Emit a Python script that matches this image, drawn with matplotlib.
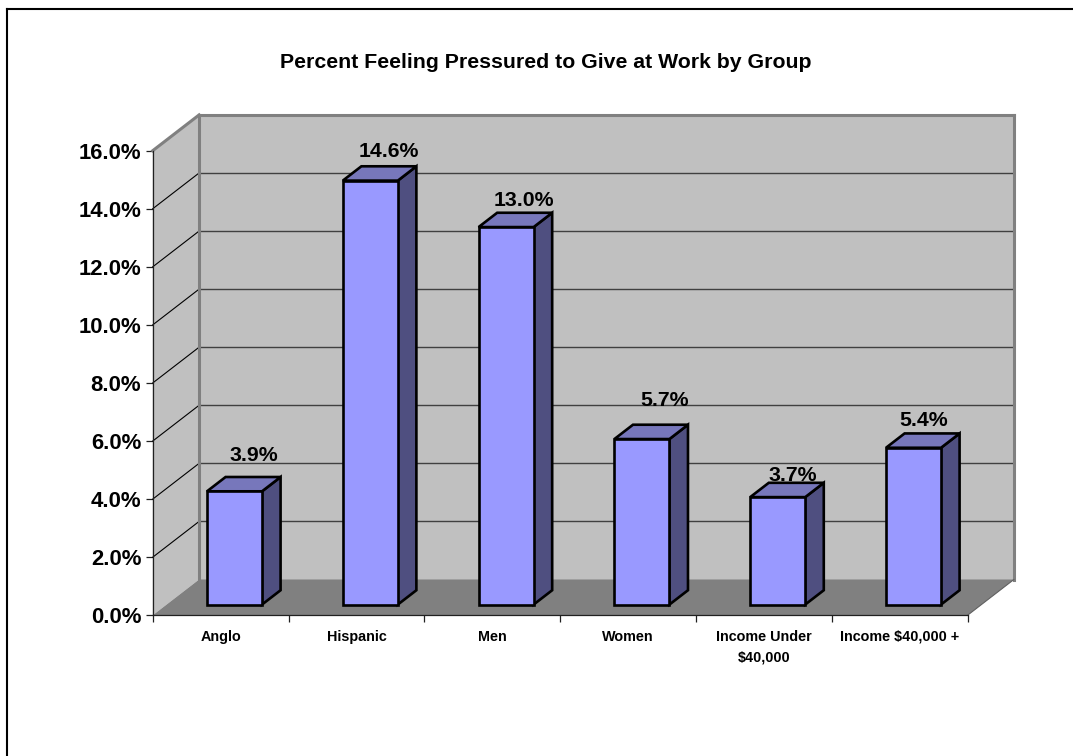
import matplotlib
matplotlib.use("Agg")
import matplotlib.pyplot as plt
from matplotlib.patches import Polygon
from matplotlib.lines import Line2D

plt.rcParams['font.family'] = ['Liberation Sans', 'DejaVu Sans']

categories = ["Anglo", "Hispanic", "Men", "Women", "Income Under\n$40,000", "Income $40,000 +"]
values = [3.9, 14.6, 13.0, 5.7, 3.7, 5.4]
y_ticks = [0, 2, 4, 6, 8, 10, 12, 14, 16]
title = "Percent Feeling Pressured to Give at Work by Group"

# label offsets from the bar's front-top centre (px right, px up to baseline)
label_dx = [19.7, 18.5, 17.5, 23, 15, 10]
label_dy = [30, 24, 21, 33, 16, 22]

W, H = 1073, 756
fig = plt.figure(figsize=(W / 100, H / 100), dpi=100, facecolor="white")
L, R, T, B = 152.7, 967.5, 150.7, 615.3
ax = fig.add_axes([L / W, 1 - B / H, (R - L) / W, (B - T) / H])
ax.set_xlim(0, 6)
ax.set_ylim(0, 16)
ax.patch.set_visible(False)

# depth vector in data units (46 px right, 36 px up)
DX = 46.4 / ((R - L) / 6)
DY = 35.8 / ((B - T) / 16)
BAR_W = 55 / ((R - L) / 6)


def poly(pts, fc, ec="none", lw=0, z=1):
    ax.add_patch(Polygon(pts, closed=True, facecolor=fc, edgecolor=ec, linewidth=lw,
                         joinstyle="miter", clip_on=False, zorder=z))


def line(xs, ys, c, lw, z=2):
    ax.add_line(Line2D(xs, ys, color=c, linewidth=lw, clip_on=False, zorder=z,
                       solid_capstyle="projecting"))


ymax = y_ticks[-1]
poly([(DX, DY), (6 + DX, DY), (6 + DX, ymax + DY), (DX, ymax + DY)], "#C0C0C0")
poly([(0, 0), (DX, DY), (DX, ymax + DY), (0, ymax)], "#C0C0C0")
poly([(0, 0), (6, 0), (6 + DX, DY), (DX, DY)], "#808080")

for v in y_ticks[1:-1]:
    line([DX, 6 + DX], [v + DY, v + DY], "#404040", 1.0, 2)
    line([0, DX], [v, v + DY], "#000000", 0.8, 2)

for xs, ys in [([DX, DX], [DY, ymax + DY]),
               ([DX, 6 + DX], [ymax + DY, ymax + DY]),
               ([6 + DX, 6 + DX], [DY, ymax + DY]),
               ([0, DX], [ymax, ymax + DY])]:
    line(xs, ys, "#808080", 2.2, 3)
line([6, 6 + DX], [0, DY], "#606060", 0.8, 3)

# bars: front at 30 % of depth, back at 70 %
f, b = 0.3, 0.7
for i, (v, dxl, dyl) in enumerate(zip(values, label_dx, label_dy)):
    x0 = i + 0.5 - BAR_W / 2 + f * DX
    x1 = x0 + BAR_W
    y0 = f * DY
    y1 = v + f * DY
    ox, oy = (b - f) * DX, (b - f) * DY
    ek = dict(ec="black", lw=1.9, z=5 + i)
    poly([(x1, y0), (x1 + ox, y0 + oy), (x1 + ox, y1 + oy), (x1, y1)], "#4F4F80", **ek)
    poly([(x0, y1), (x1, y1), (x1 + ox, y1 + oy), (x0 + ox, y1 + oy)], "#7777BB", **ek)
    poly([(x0, y0), (x1, y0), (x1, y1), (x0, y1)], "#9999FF", **ek)
    ax.annotate(f"{v:.1f}%", xy=((x0 + x1) / 2, y1), xytext=(dxl * 0.72, dyl * 0.72),
                textcoords="offset points", ha="center", va="baseline",
                fontsize=15.3, fontweight="bold", color="black", zorder=30)

for s in ("top", "right"):
    ax.spines[s].set_visible(False)
for s in ("left", "bottom"):
    ax.spines[s].set_linewidth(0.9)
    ax.spines[s].set_color("#202020")
    ax.spines[s].set_zorder(4)

ax.set_yticks(y_ticks)
ax.set_yticklabels([f"{v:.1f}%" for v in y_ticks], fontsize=15.9, fontweight="bold")
ax.tick_params(axis="y", length=5, width=0.9, pad=3.2, color="#202020")
ax.set_xticks(range(7))
ax.set_xticklabels([""] * 7)
ax.tick_params(axis="x", which="major", length=5, width=0.9, color="#202020")
ax.set_xticks([i + 0.5 for i in range(6)], minor=True)
ax.set_xticklabels(categories, minor=True, fontsize=10.4, fontweight="bold", linespacing=1.6)
ax.tick_params(axis="x", which="minor", length=0, pad=10.5)

fig.text(546 / W, 1 - 68 / H, title, ha="center", va="baseline", fontsize=15.3, fontweight="bold")

# outer chart frame, top and left edges
fig.add_artist(Line2D([6.5 / W, 1], [1 - 8.5 / H, 1 - 8.5 / H], color="black", linewidth=1.5))
fig.add_artist(Line2D([6.5 / W, 6.5 / W], [0, 1 - 8.5 / H], color="black", linewidth=1.5))

fig.savefig("out.png", dpi=100)
